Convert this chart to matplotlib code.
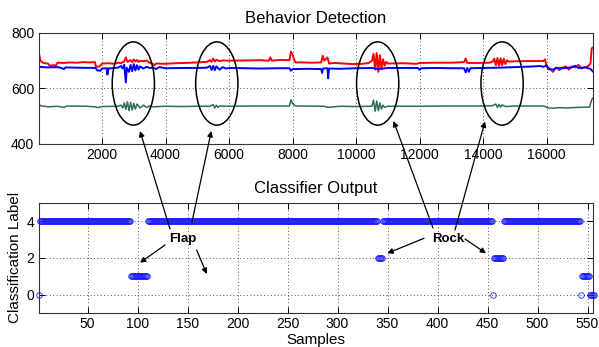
import matplotlib
matplotlib.use("Agg")
import matplotlib.pyplot as plt
import numpy as np
from matplotlib.patches import Ellipse, FancyArrowPatch

plt.rcParams['font.family'] = ['Liberation Sans', 'DejaVu Sans']

# ---------------- data: top panel (sensor traces) ----------------
red_x = [0, 60, 150, 300, 350, 450, 550, 600, 800, 1000, 1200, 1400, 1600, 1780, 1800, 1900, 1950, 2000,
         2200, 2400, 2500, 2600, 2700, 2750, 2800, 2900, 2950, 3000, 3050, 3100, 3150, 3200, 3300, 3400,
         3500, 3600, 3650, 3700, 4000, 4300, 4600, 5000, 5300, 5400, 5450, 5500, 5550, 5600, 5700, 5800,
         6000, 6500, 7000, 7250, 7300, 7350, 7600, 7900, 7950, 8000, 8050, 8100, 8300, 8600, 8900, 8950,
         9000, 9100, 9150, 9300, 9600, 9900, 10200, 10400, 10500, 10550, 10600, 10650, 10700, 10750,
         10800, 10850, 10900, 10950, 11000, 11500, 11900, 12000, 12500, 13000, 13400, 13450, 13500,
         13800, 14200, 14300, 14350, 14400, 14450, 14500, 14550, 14600, 14650, 14700, 14750, 14800,
         15000, 15500, 15900, 15950, 16000, 16100, 16200, 16300, 16400, 16500, 16600, 16700, 16800,
         16900, 17000, 17100, 17300, 17380, 17420, 17460]
red_y = [735, 700, 692, 690, 682, 684, 683, 693, 692, 694, 693, 695, 694, 695, 680, 678, 683, 690,
         691, 689, 693, 691, 698, 712, 696, 702, 695, 705, 697, 703, 696, 700, 698, 701,
         693, 688, 684, 690, 689, 691, 692, 694, 696, 702, 696, 708, 697, 703, 699, 701,
         700, 701, 702, 700, 712, 700, 703, 702, 733, 722, 703, 694, 694, 693, 694, 718,
         700, 712, 690, 692, 690, 688, 689, 692, 700, 725, 668, 728, 660, 720,
         670, 705, 682, 696, 690, 691, 689, 692, 693, 693, 695, 708, 692,
         692, 693, 697, 708, 684, 710, 682, 709, 684, 707, 688, 702, 697,
         698, 699, 699, 705, 680, 672, 660, 676, 666, 675, 680, 668, 680,
         676, 685, 672, 680, 690, 745, 748]

blue_x = [0, 300, 600, 700, 800, 850, 1200, 1800, 1850, 1950, 2000, 2150, 2170, 2200, 2500, 2600, 2650,
          2700, 2750, 2780, 2850, 2900, 2950, 3000, 3050, 3100, 3150, 3200, 3300, 3400, 3500, 3600,
          3700, 3800, 4000, 4500, 5000, 5300, 5400, 5450, 5500, 5550, 5600, 5700, 5800, 5900, 6000,
          6500, 7000, 7500, 7900, 7950, 8000, 8500, 8900, 8930, 8960, 9100, 9120, 9150, 9500, 10000,
          10500, 10700, 11000, 11500, 11950, 12000, 12050, 12500, 13000, 13400, 13450, 13500, 13550,
          13600, 14000, 14500, 15000, 15500, 15800, 15900, 16000, 16050, 16200, 16300, 16500, 16800,
          16900, 17000, 17200, 17350, 17400, 17460]
blue_y = [678, 676, 677, 675, 670, 676, 675, 674, 665, 664, 672, 673, 650, 672, 675, 681, 672,
          686, 622, 675, 660, 685, 662, 688, 665, 684, 668, 680, 672, 678, 674, 676,
          670, 677, 673, 674, 674, 675, 681, 667, 682, 666, 680, 668, 677, 672, 674,
          673, 672, 673, 673, 664, 670, 671, 670, 656, 672, 673, 637, 672, 671, 673,
          674, 670, 674, 674, 674, 667, 673, 674, 673, 673, 658, 674, 660,
          673, 674, 675, 677, 679, 681, 678, 684, 670, 668, 674, 673, 676,
          682, 674, 676, 672, 668, 661]

green_x = [0, 50, 300, 600, 800, 900, 1500, 1800, 1850, 2000, 2500, 2600, 2650, 2700, 2750, 2800,
           2850, 2900, 2950, 3000, 3050, 3100, 3200, 3300, 3400, 3500, 3600, 4000, 4500, 5000, 5400,
           5500, 5550, 5600, 5650, 5700, 6000, 7000, 7900, 7950, 8000, 8100, 9000, 9100, 9500, 10000,
           10500, 10550, 10600, 10650, 10700, 10750, 10800, 10850, 10900, 11000, 12000, 13000, 14000,
           14300, 14400, 14450, 14500, 14550, 14600, 14700, 15000, 15900, 16050, 16200, 16400, 16600,
           17000, 17350, 17420, 17460]
green_y = [553, 538, 534, 536, 532, 537, 536, 534, 531, 535, 536, 540, 530, 548, 524, 552,
           520, 550, 522, 546, 526, 544, 530, 540, 532, 537, 534, 536, 535, 536, 536,
           542, 530, 540, 532, 537, 536, 537, 537, 559, 545, 537, 536, 532, 536, 535,
           536, 558, 518, 555, 520, 548, 526, 540, 532, 536, 536, 537, 537,
           538, 544, 532, 543, 533, 541, 535, 537, 537, 530, 529, 531, 530,
           532, 533, 560, 566]

top_xticks = [2000, 4000, 6000, 8000, 10000, 12000, 14000, 16000]
top_yticks = [400, 600, 800]

# circled regions (sample position centres)
circle_centers = [2986, 5614, 10680, 14597]

# ---------------- data: bottom panel (classifier output) ----------------
clf_values = [0, 4, 1, 4, 2, 4, 0, 2, 4, 0, 1, 0]
clf_lengths = [1, 91, 17, 230, 5, 110, 1, 10, 77, 1, 8, 5]
bot_xticks = [50, 100, 150, 200, 250, 300, 350, 400, 450, 500, 550]
bot_yticks = [0, 2, 4]

samples = np.arange(1, sum(clf_lengths) + 1)
labels = np.repeat(clf_values, clf_lengths)

# ---------------- figure ----------------
W, H = 599, 347
fig = plt.figure(figsize=(W / 100, H / 100), dpi=100)

ax1 = fig.add_axes([38.5 / W, 1 - 144 / H, (593 - 38.5) / W, (144 - 33) / H])
ax2 = fig.add_axes([38.5 / W, 1 - 313 / H, (593 - 38.5) / W, (313 - 202.7) / H])

grid_kw = dict(color='#555555', linestyle=(0, (1, 2.5)), linewidth=0.7)

ax1.plot(red_x, red_y, color='#ff0000', lw=1.4)
ax1.plot(blue_x, blue_y, color='#0000ff', lw=1.4)
ax1.plot(green_x, green_y, color='#2f6f4f', lw=1.1)
ax1.set_xlim(0, 17460)
ax1.set_ylim(400, 800)
ax1.set_xticks(top_xticks)
ax1.set_yticks(top_yticks)
ax1.grid(True, **grid_kw)
ax1.set_title('Behavior Detection', fontsize=12, pad=7)

for cx in circle_centers:
    ax1.add_patch(Ellipse((cx, 618), width=1330, height=300, fill=False,
                          edgecolor='black', lw=1.1, zorder=5))

ax2.plot(samples, labels, linestyle='none', marker='o', markersize=4.0,
         markerfacecolor='none', markeredgecolor='#1a1aff', markeredgewidth=0.6,
         clip_on=False, zorder=3)
ax2.set_xlim(1, 555.5)
ax2.set_ylim(-1, 5)
ax2.set_xticks(bot_xticks)
ax2.set_yticks(bot_yticks)
ax2.grid(True, **grid_kw)
ax2.set_title('Classifier Output', fontsize=12, pad=7)
ax2.set_xlabel('Samples', fontsize=11, labelpad=1)
ax2.set_ylabel('Classification Label', fontsize=11, labelpad=3)

for ax in (ax1, ax2):
    ax.tick_params(direction='in', length=4, width=0.7, labelsize=10, pad=3,
                   top=True, right=True)
    for s in ax.spines.values():
        s.set_color('#333333')
        s.set_linewidth(0.8)
    ax.set_axisbelow(True)


def fp(x, y):
    return (x / W, 1 - y / H)


arrows = [
    ((170, 229), (140, 131)),
    ((192, 222), (211.3, 131)),
    ((165, 245), (140, 262.7)),
    ((196.7, 250), (206.7, 274)),
    ((433, 228), (393.5, 121)),
    ((455, 230), (485, 121.5)),
    ((424, 238.3), (387.3, 253.3)),
    ((465, 239), (486, 253.3)),
]
for tail, head in arrows:
    fig.add_artist(FancyArrowPatch(fp(*tail), fp(*head), transform=fig.transFigure,
                                   arrowstyle='-|>', mutation_scale=8, lw=0.9,
                                   color='black', shrinkA=0, shrinkB=0, zorder=10))

fig.text(*fp(183, 239), 'Flap', fontsize=9.5, fontweight='bold', ha='center', va='center')
fig.text(*fp(448, 238.7), 'Rock', fontsize=9.5, fontweight='bold', ha='center', va='center')

fig.savefig('out.png', dpi=100)
